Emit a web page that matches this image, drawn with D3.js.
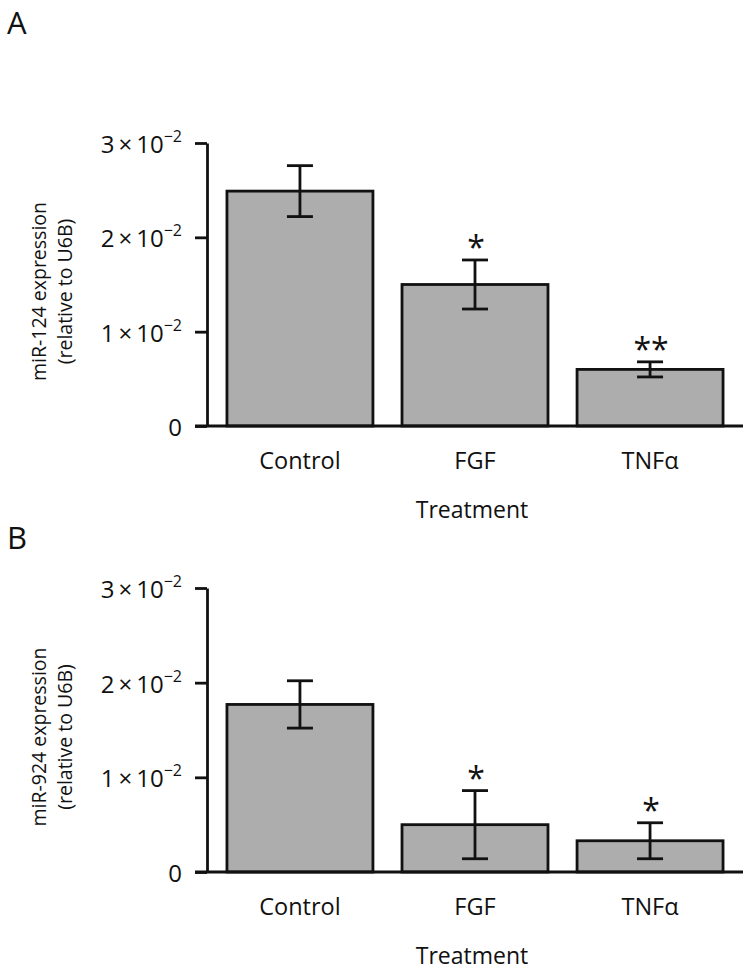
<!DOCTYPE html>
<html><head><meta charset="utf-8">
<script src="https://cdn.jsdelivr.net/npm/d3@7"></script>
<style>
body{margin:0;background:#fff}
text{font-family:"Open Sans",sans-serif;fill:#111}
</style>
</head><body>
<svg id="chart" width="750" height="972"></svg>
<script>
// ---- data ----
const categories = ["Control", "FGF", "TNFα"];
const mir124Mean = [0.0249, 0.0150, 0.0060];
const mir124Err  = [0.0027, 0.0026, 0.0008];
const mir124Sig  = ["", "*", "**"];
const mir924Mean = [0.0177, 0.0050, 0.0033];
const mir924Err  = [0.0025, 0.0036, 0.0019];
const mir924Sig  = ["", "*", "*"];
const yTicks = [0, 0.01, 0.02, 0.03];
const yTickMantissa = ["0", "1", "2", "3"];
const yTickExponent = "−2";
const xTitle = "Treatment";

const panels = [
  {label: "A", labelY: 34, ylab: ["miR-124 expression", "(relative to U6B)"], mean: mir124Mean, err: mir124Err, sig: mir124Sig, top: 143, bottom: 426},
  {label: "B", labelY: 549, ylab: ["miR-924 expression", "(relative to U6B)"], mean: mir924Mean, err: mir924Err, sig: mir924Sig, top: 588, bottom: 872}
];

const svg = d3.select("#chart");
const axisX = 207, rightX = 743;
const x = d3.scaleBand().domain(categories).range([axisX, rightX])
  .paddingInner(0.166).paddingOuter(0.114);

panels.forEach((p) => {
  const y = d3.scaleLinear().domain([0, 0.03]).range([p.bottom, p.top]);
  const g = svg.append("g");

  // panel letter
  g.append("text").attr("x", 7).attr("y", p.labelY)
    .attr("font-size", 31).text(p.label);

  // bars
  const rows = categories.map((c, i) => ({c, m: p.mean[i], e: p.err[i], s: p.sig[i]}));
  g.selectAll("rect.bar").data(rows).join("rect")
    .attr("x", d => x(d.c)).attr("width", x.bandwidth())
    .attr("y", d => y(d.m)).attr("height", d => y(0) - y(d.m))
    .attr("fill", "#adadad").attr("stroke", "#111").attr("stroke-width", 2.8);

  // error bars
  const cap = 13;
  const eb = g.selectAll("g.eb").data(rows).join("g")
    .attr("stroke", "#111").attr("stroke-width", 2.8);
  eb.append("line")
    .attr("x1", d => x(d.c) + x.bandwidth() / 2).attr("x2", d => x(d.c) + x.bandwidth() / 2)
    .attr("y1", d => y(d.m + d.e)).attr("y2", d => y(d.m - d.e));
  eb.append("line")
    .attr("x1", d => x(d.c) + x.bandwidth() / 2 - cap).attr("x2", d => x(d.c) + x.bandwidth() / 2 + cap)
    .attr("y1", d => y(d.m + d.e)).attr("y2", d => y(d.m + d.e));
  eb.append("line")
    .attr("x1", d => x(d.c) + x.bandwidth() / 2 - cap).attr("x2", d => x(d.c) + x.bandwidth() / 2 + cap)
    .attr("y1", d => y(d.m - d.e)).attr("y2", d => y(d.m - d.e));

  // significance
  g.selectAll("text.sig").data(rows.filter(d => d.s)).join("text")
    .attr("class", "sig")
    .attr("x", d => x(d.c) + x.bandwidth() / 2 + 1)
    .attr("y", d => y(d.m + d.e) - 1)
    .attr("text-anchor", "middle").attr("font-size", 32)
    .text(d => d.s);

  // y axis
  const ya = g.append("g").attr("transform", `translate(${axisX},0)`)
    .call(d3.axisLeft(y).tickValues(yTicks).tickSize(12).tickSizeOuter(0).tickPadding(13).tickFormat(() => ""));
  ya.selectAll("path, line").attr("stroke", "#111").attr("stroke-width", 2.8);
  ya.selectAll(".tick text").each(function(d, i) {
    const t = d3.select(this).attr("font-size", 24).attr("dy", "0.4em")
      .attr("font-family", "'Open Sans',sans-serif").attr("fill", "#111");
    t.text(null);
    if (d === 0) { t.text(yTickMantissa[i]); return; }
    t.append("tspan").text(yTickMantissa[i] + "\u2009×\u200910");
    t.append("tspan").attr("font-size", 16).attr("dy", "-0.7em").text(yTickExponent);
  });

  // baseline
  g.append("line").attr("x1", axisX - 12).attr("x2", rightX)
    .attr("y1", y(0)).attr("y2", y(0)).attr("stroke", "#111").attr("stroke-width", 2.8);

  // category labels
  g.selectAll("text.cat").data(categories).join("text")
    .attr("class", "cat").attr("x", d => x(d) + x.bandwidth() / 2).attr("y", y(0) + 43)
    .attr("text-anchor", "middle").attr("font-size", 23.5).text(d => d);

  // x title
  g.append("text").attr("x", 472).attr("y", y(0) + 92).attr("text-anchor", "middle")
    .attr("font-size", 23).text(xTitle);

  // y title
  const cy = (p.top + p.bottom) / 2 + 7;
  p.ylab.forEach((line, li) => {
    g.append("text").attr("transform", `translate(${46 + li * 26},${cy}) rotate(-90)`)
      .attr("text-anchor", "middle").attr("font-size", 19.5).text(line);
  });
});
</script>
</body></html>
